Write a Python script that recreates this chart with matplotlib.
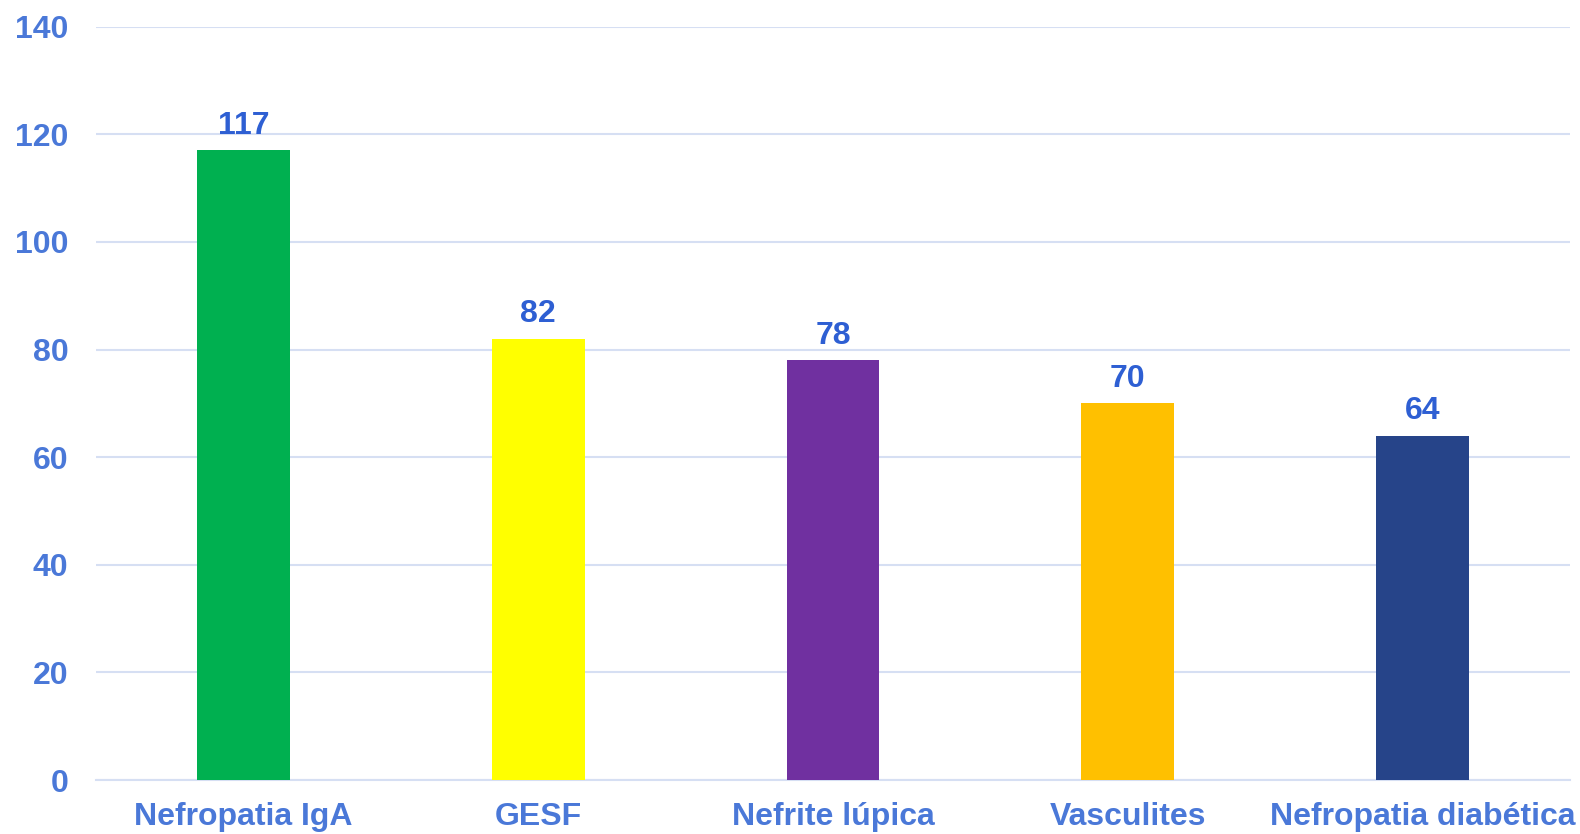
import matplotlib.pyplot as plt
import numpy as np

categories = ["Nefropatia IgA", "GESF", "Nefrite lúpica", "Vasculites", "Nefropatia diabética"]
values = [117, 82, 78, 70, 64]
bar_colors = ["#00B050", "#FFFF00", "#7030A0", "#FFC000", "#264489"]
y_ticks = [0, 20, 40, 60, 80, 100, 120, 140]

plt.rcParams["font.family"] = ["Liberation Sans", "DejaVu Sans"]

tick_color = "#4A78D8"
label_color = "#2E5FD3"
grid_color = "#D6DFF3"

fig = plt.figure(figsize=(15.8, 8.34), dpi=100)
ax = fig.add_axes([0.0608, 0.0647, 0.9329, 0.9033])

x = np.arange(len(categories))
bars = ax.bar(x, values, width=0.315, color=bar_colors, zorder=3)

for rect, v in zip(bars, values):
    ax.annotate(str(v), (rect.get_x() + rect.get_width() / 2, v),
                xytext=(0, 7), textcoords="offset points",
                ha="center", va="bottom", fontsize=23, fontweight="bold",
                color=label_color)

ax.set_xlim(-0.5, len(categories) - 0.5)
ax.set_ylim(0, 140)
ax.set_yticks(y_ticks)
ax.set_xticks(x)
ax.set_xticklabels(categories)
ax.yaxis.grid(True, color=grid_color, linewidth=1.5, zorder=0)
ax.set_axisbelow(True)

for s in ["top", "right", "left"]:
    ax.spines[s].set_visible(False)
ax.spines["bottom"].set_color(grid_color)
ax.spines["bottom"].set_linewidth(1.5)

ax.tick_params(axis="both", length=0, labelsize=23, colors=tick_color)
ax.tick_params(axis="y", pad=20)
ax.tick_params(axis="x", pad=16)
for lbl in ax.get_xticklabels() + ax.get_yticklabels():
    lbl.set_fontweight("bold")

fig.savefig("out.png", dpi=100)
